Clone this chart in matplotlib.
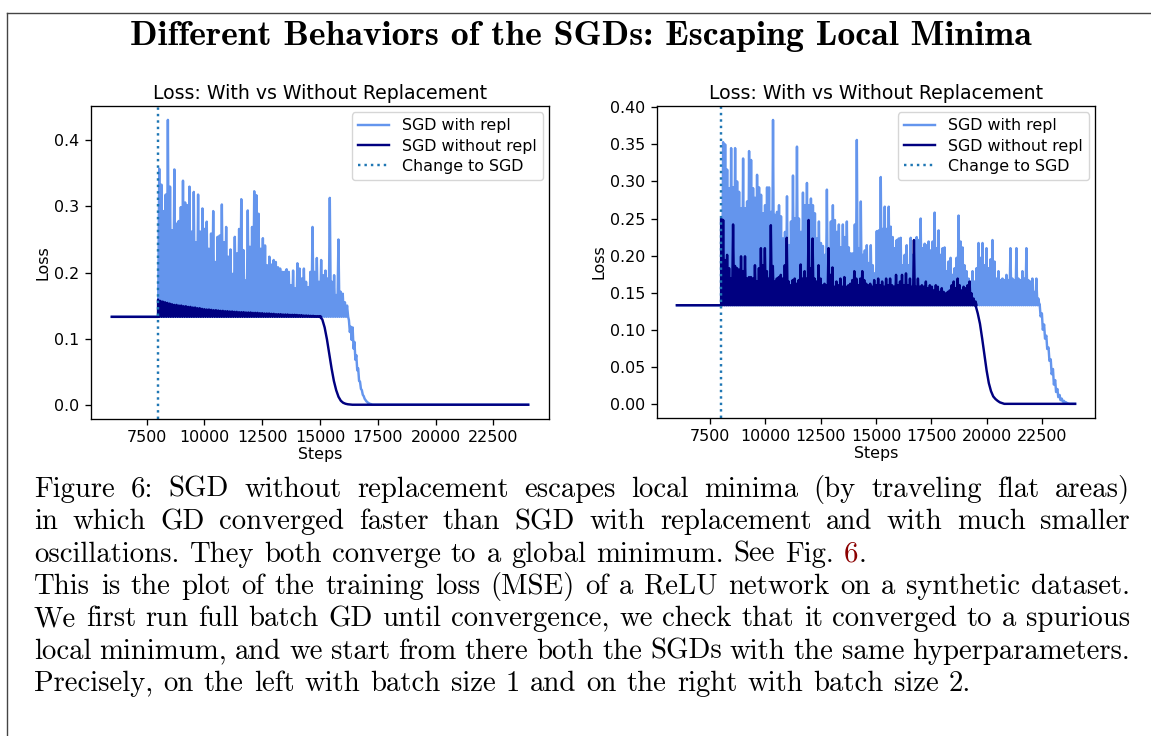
import numpy as np
import matplotlib
matplotlib.use("Agg")
import matplotlib.pyplot as plt
from matplotlib.transforms import IdentityTransform

# ---------------- data ----------------
BASE = 0.133          # loss of the spurious local minimum (GD plateau)
GD_STEPS = [6000, 8000]
GD_LOSS = [0.133, 0.133]
SWITCH_STEP = 8000
END_STEP = 24000

# ---- left panel (batch size 1) ----
left_repl_peaks = [
    0.357, 0.333, 0.293, 0.318, 0.431, 0.330, 0.264, 0.356, 0.274, 0.278,
    0.299, 0.339, 0.306, 0.302, 0.330, 0.262, 0.322, 0.246, 0.318, 0.262,
    0.297, 0.266, 0.277, 0.236, 0.259, 0.293, 0.216, 0.254, 0.256, 0.303,
    0.246, 0.269, 0.224, 0.235, 0.198, 0.254, 0.229, 0.266, 0.311, 0.234,
    0.188, 0.294, 0.239, 0.269, 0.323, 0.317, 0.289, 0.236, 0.252, 0.241,
    0.211, 0.224, 0.212, 0.219, 0.216, 0.208, 0.206, 0.201, 0.201, 0.205,
    0.201, 0.181, 0.203, 0.176, 0.214, 0.206, 0.191, 0.206, 0.186, 0.178,
    0.201, 0.269, 0.201, 0.222, 0.186, 0.219, 0.196, 0.203, 0.191, 0.313,
    0.186, 0.196, 0.166, 0.250, 0.171, 0.168, 0.155, 0.150]
left_repl_peak_range = [8050, 16170]
left_repl_desc_steps = [16250, 16330, 16410, 16490, 16570, 16650, 16730,
                        16810, 16890, 16970, 17050, 17130, 17210]
left_repl_desc_upper = [0.128, 0.118, 0.117, 0.095, 0.075, 0.055, 0.035,
                        0.022, 0.013, 0.007, 0.004, 0.002, 0.001]
left_repl_desc_lower = [0.110, 0.098, 0.085, 0.068, 0.052, 0.036, 0.024,
                        0.015, 0.009, 0.005, 0.002, 0.001, 0.000]

left_norepl_env = [
    0.159, 0.157, 0.156, 0.155, 0.154, 0.153, 0.152, 0.151, 0.151, 0.150,
    0.150, 0.149, 0.149, 0.148, 0.148, 0.147, 0.147, 0.146, 0.146, 0.145,
    0.1445, 0.144, 0.144, 0.1435, 0.143, 0.143, 0.1425, 0.142, 0.142, 0.1415,
    0.1415, 0.141, 0.141, 0.1405, 0.1405, 0.140, 0.140, 0.140, 0.1395, 0.1395,
    0.1395, 0.139, 0.139, 0.139, 0.1385, 0.1385, 0.138, 0.138, 0.138, 0.1375,
    0.1375, 0.137, 0.137, 0.137, 0.1365, 0.1365, 0.1365, 0.136, 0.136, 0.136,
    0.1358, 0.1355, 0.1355, 0.135, 0.135, 0.1348, 0.1345, 0.1345, 0.134, 0.134,
    0.134]
left_norepl_env_range = [8000, 15000]
left_norepl_desc_steps = [15000, 15100, 15200, 15300, 15400, 15500, 15600,
                          15700, 15800, 15900, 16000, 16100, 16200, 16400]
left_norepl_desc_loss = [0.133, 0.129, 0.117, 0.099, 0.077, 0.055, 0.036,
                         0.022, 0.012, 0.006, 0.003, 0.0015, 0.0007, 0.0]

# ---- right panel (batch size 2) ----
right_repl_peaks = [
    0.250,
    0.353, 0.350, 0.316, 0.291, 0.345, 0.292, 0.345, 0.300, 0.286, 0.264,
    0.331, 0.264, 0.273, 0.341, 0.329, 0.291, 0.278, 0.309, 0.292, 0.282,
    0.257, 0.268, 0.292, 0.292, 0.259, 0.383, 0.255, 0.259, 0.268, 0.253,
    0.223, 0.232, 0.280, 0.214, 0.246, 0.308, 0.250, 0.347, 0.250, 0.232,
    0.285, 0.268, 0.298, 0.268, 0.277, 0.268, 0.257, 0.223, 0.246, 0.217,
    0.213, 0.201, 0.289, 0.210, 0.246, 0.268, 0.248,
    0.232, 0.242, 0.211, 0.242, 0.225, 0.246, 0.211, 0.203, 0.203, 0.242,
    0.356, 0.210, 0.273, 0.201, 0.207, 0.214, 0.190, 0.214, 0.187, 0.176,
    0.233, 0.234, 0.306, 0.236, 0.266, 0.236, 0.266, 0.239, 0.225, 0.210,
    0.221, 0.223, 0.224, 0.187, 0.201, 0.214, 0.187, 0.224, 0.201, 0.219,
    0.225, 0.221, 0.250, 0.210, 0.216, 0.214, 0.219, 0.207, 0.219, 0.258,
    0.210, 0.234, 0.201, 0.210, 0.211, 0.179, 0.192,
    0.197, 0.174, 0.183, 0.197, 0.254, 0.219, 0.211, 0.187, 0.179, 0.169,
    0.165, 0.179, 0.165, 0.183, 0.217, 0.197, 0.217, 0.187, 0.210, 0.183,
    0.195, 0.221, 0.192, 0.169, 0.179, 0.167, 0.169, 0.167, 0.174, 0.167,
    0.210, 0.169, 0.167, 0.210, 0.169, 0.167, 0.179, 0.169, 0.210, 0.167,
    0.165, 0.169, 0.151, 0.169, 0.142]
right_repl_peak_range = [8000, 22340]
right_repl_desc_steps = [22400, 22500, 22600, 22700, 22800, 22900, 23000,
                         23100, 23200, 23300, 23400, 23500, 23600, 23700]
right_repl_desc_upper = [0.134, 0.122, 0.107, 0.092, 0.076, 0.060, 0.047,
                         0.032, 0.020, 0.012, 0.007, 0.004, 0.002, 0.0005]
right_repl_desc_lower = [0.118, 0.100, 0.088, 0.074, 0.058, 0.040, 0.026,
                         0.016, 0.009, 0.005, 0.003, 0.0015, 0.0005, 0.0]

right_norepl_peaks = [
    0.250, 0.248, 0.194, 0.201, 0.183, 0.169, 0.242, 0.186, 0.183, 0.181,
    0.199, 0.179, 0.199, 0.169, 0.171, 0.171, 0.169, 0.187, 0.165, 0.183,
    0.210, 0.187, 0.210, 0.179, 0.169, 0.241, 0.186, 0.165, 0.169, 0.171,
    0.174, 0.169, 0.187, 0.224, 0.165, 0.160, 0.167, 0.169, 0.162, 0.167,
    0.188, 0.169, 0.179, 0.169, 0.248, 0.183, 0.223, 0.169, 0.165, 0.187,
    0.169, 0.160, 0.162, 0.160, 0.210, 0.174,
    0.184, 0.158, 0.165, 0.160, 0.169, 0.158, 0.171, 0.158, 0.160, 0.162,
    0.167, 0.179, 0.169, 0.160, 0.169, 0.179, 0.167, 0.162, 0.160, 0.162,
    0.158, 0.167, 0.160, 0.169, 0.160, 0.165, 0.158, 0.169, 0.160, 0.169,
    0.160, 0.158, 0.174, 0.160, 0.165, 0.174, 0.160, 0.176, 0.160, 0.169,
    0.158, 0.221, 0.158, 0.169, 0.158, 0.160, 0.158, 0.165, 0.156, 0.160,
    0.158, 0.153, 0.160, 0.158, 0.151, 0.156, 0.151, 0.149, 0.151,
    0.153, 0.160, 0.165, 0.156, 0.169, 0.160, 0.153, 0.158, 0.156, 0.160,
    0.165, 0.149, 0.142, 0.138]
right_norepl_peak_range = [8000, 19500]
right_norepl_desc_steps = [19500, 19600, 19700, 19800, 19900, 20000, 20100,
                           20200, 20300, 20400, 20500, 20600, 20700, 20800]
right_norepl_desc_loss = [0.133, 0.122, 0.108, 0.088, 0.066, 0.045, 0.028,
                          0.017, 0.010, 0.0065, 0.004, 0.002, 0.001, 0.0]

TITLE = "Different Behaviors of the SGDs: Escaping Local Minima"
AX_TITLE = "Loss: With vs Without Replacement"
LEGEND = ["SGD with repl", "SGD without repl", "Change to SGD"]
CAPTION = [
    ("Figure 6:  SGD without replacement escapes local minima (by traveling flat areas)", True),
    ("in which GD converged faster than SGD with replacement and with much smaller", True),
    ("oscillations. They both converge to a global minimum. See Fig. 6.", False),
    ("This is the plot of the training loss (MSE) of a ReLU network on a synthetic dataset.", True),
    ("We first run full batch GD until convergence, we check that it converged to a spurious", True),
    ("local minimum, and we start from there both the SGDs with the same hyperparameters.", True),
    ("Precisely, on the left with batch size 1 and on the right with batch size 2.", False),
]

C_REPL = "#6495ED"     # cornflowerblue
C_NOREPL = "#000080"   # navy
C_SWITCH = "#1f77b4"


def oscillating_series(peaks, prange, desc_steps, desc_up, desc_lo):
    """Series alternating between the read peak values and the plateau floor."""
    xs = list(GD_STEPS)
    ys = list(GD_LOSS)
    px = np.linspace(prange[0], prange[1], len(peaks))
    half = (px[1] - px[0]) / 2.0
    for x, p in zip(px, peaks):
        xs += [x, x + half]
        ys += [p, BASE]
    for x, u, l in zip(desc_steps, desc_up, desc_lo):
        xs += [x, x + 40]
        ys += [u, l]
    xs += [END_STEP]
    ys += [0.0]
    return np.array(xs), np.array(ys)


def smooth_after(env, erange, dsteps, dloss):
    xs = list(GD_STEPS)
    ys = list(GD_LOSS)
    px = np.linspace(erange[0], erange[1], len(env))
    half = (px[1] - px[0]) / 2.0
    for x, p in zip(px, env):
        xs += [x, x + half]
        ys += [p, BASE]
    xs += list(dsteps) + [END_STEP]
    ys += list(dloss) + [0.0]
    return np.array(xs), np.array(ys)


W, H, DPI = 1151, 736, 100
FS = 11.4
plt.rcParams.update({
    "font.size": FS,
    "axes.titlesize": 13.6,
    "axes.labelsize": FS,
    "xtick.labelsize": FS,
    "ytick.labelsize": FS,
    "legend.fontsize": FS,
    "axes.linewidth": 0.95,
    "xtick.major.size": 4.2,
    "ytick.major.size": 4.2,
    "xtick.major.width": 0.95,
    "ytick.major.width": 0.95,
    "xtick.major.pad": 4.0,
    "ytick.major.pad": 4.0,
})
fig = plt.figure(figsize=(W / DPI, H / DPI), dpi=DPI)
fig.patch.set_facecolor("white")

LW = 1.75
ax_l = fig.add_axes([91 / W, 1 - 419 / H, (549 - 91) / W, (419 - 106) / H])
ax_r = fig.add_axes([657 / W, 1 - 418 / H, (1095 - 657) / W, (418 - 106) / H])

# left panel
x1, y1 = oscillating_series(left_repl_peaks, left_repl_peak_range,
                            left_repl_desc_steps, left_repl_desc_upper, left_repl_desc_lower)
x2, y2 = smooth_after(left_norepl_env, left_norepl_env_range,
                      left_norepl_desc_steps, left_norepl_desc_loss)
ax_l.plot(x1, y1, color=C_REPL, lw=LW, label=LEGEND[0])
ax_l.plot(x2, y2, color=C_NOREPL, lw=LW, label=LEGEND[1])
ax_l.axvline(SWITCH_STEP, color=C_SWITCH, ls=":", lw=LW, label=LEGEND[2])

# right panel
x3, y3 = oscillating_series(right_repl_peaks, right_repl_peak_range,
                            right_repl_desc_steps, right_repl_desc_upper, right_repl_desc_lower)
x4, y4 = smooth_after(right_norepl_peaks, right_norepl_peak_range,
                      right_norepl_desc_steps, right_norepl_desc_loss)
ax_r.plot(x3, y3, color=C_REPL, lw=LW, label=LEGEND[0])
ax_r.plot(x4, y4, color=C_NOREPL, lw=LW, label=LEGEND[1])
ax_r.axvline(SWITCH_STEP, color=C_SWITCH, ls=":", lw=LW, label=LEGEND[2])

for ax in (ax_l, ax_r):
    ax.set_title(AX_TITLE, pad=5.0)
    ax.set_xlabel("Steps", labelpad=1)
    ax.set_ylabel("Loss", labelpad=3)
    ax.set_xticks([7500, 10000, 12500, 15000, 17500, 20000, 22500])
    ax.legend(loc="upper right", borderaxespad=0.4, labelspacing=0.33,
              borderpad=0.38)
    ax.set_xlim(5100, 24900)
ax_l.set_ylim(-0.0216, 0.452)
ax_r.set_ylim(-0.0191, 0.4018)
ax_l.set_yticks([0.0, 0.1, 0.2, 0.3, 0.4])
ax_r.set_yticks([0.0, 0.05, 0.10, 0.15, 0.20, 0.25, 0.30, 0.35, 0.40])
ax_r.set_yticklabels(["0.00", "0.05", "0.10", "0.15", "0.20", "0.25", "0.30", "0.35", "0.40"])

# page border (left and top edges)
fig.add_artist(plt.Line2D([7 / W, 7 / W], [0, 1 - 13 / H], transform=fig.transFigure,
                          color="#444444", lw=1.0))
fig.add_artist(plt.Line2D([7 / W, 1], [1 - 13 / H, 1 - 13 / H], transform=fig.transFigure,
                          color="#444444", lw=1.0))

# ---------------- title and caption (LaTeX-like) ----------------
fig.canvas.draw()
rend = fig.canvas.get_renderer()
ident = IdentityTransform()


def width_of(s, **kw):
    t = fig.text(0, 0, s, transform=ident, **kw)
    w = t.get_window_extent(rend).width
    t.remove()
    return w


# title: fit to reference extent 130..1032 px
tkw = dict(family="cmb10")
tw = width_of(TITLE, fontsize=20, **tkw)
tfs = 20 * (1032 - 130) / tw
fig.text(581, H - 45, TITLE, transform=ident, ha="center", va="baseline",
         fontsize=tfs, **tkw)

# caption font size: last line natural width 35..962 px
ckw = dict(family="cmr10")
cw = width_of(CAPTION[-1][0], fontsize=17, **ckw)
cfs = 17 * (962 - 34) / cw
ckw["fontsize"] = cfs
space_w = width_of("a a", **ckw) - width_of("aa", **ckw)

LEFT, RIGHT = 34.0, 1130.0
baselines = [496.7, 529.1, 561.5, 593.9, 626.3, 658.7, 691.1]
for (line, justify), yb in zip(CAPTION, baselines):
    words = line.split()
    widths = [width_of(w_, **ckw) for w_ in words]
    if justify:
        gap = (RIGHT - LEFT - sum(widths)) / (len(words) - 1)
    else:
        gap = space_w * 1.05
    x = LEFT
    for w_, wd in zip(words, widths):
        if w_ == "6." and line.startswith("oscillations"):
            w6 = width_of("6", **ckw)
            fig.text(x, H - yb, "6", transform=ident, va="baseline", ha="left",
                     color="#8B0000", **ckw)
            fig.text(x + w6, H - yb, ".", transform=ident, va="baseline", ha="left",
                     color="black", **ckw)
        else:
            fig.text(x, H - yb, w_, transform=ident, va="baseline", ha="left",
                     color="black", **ckw)
        x += wd + gap

fig.savefig("out.png", dpi=DPI, facecolor="white")
